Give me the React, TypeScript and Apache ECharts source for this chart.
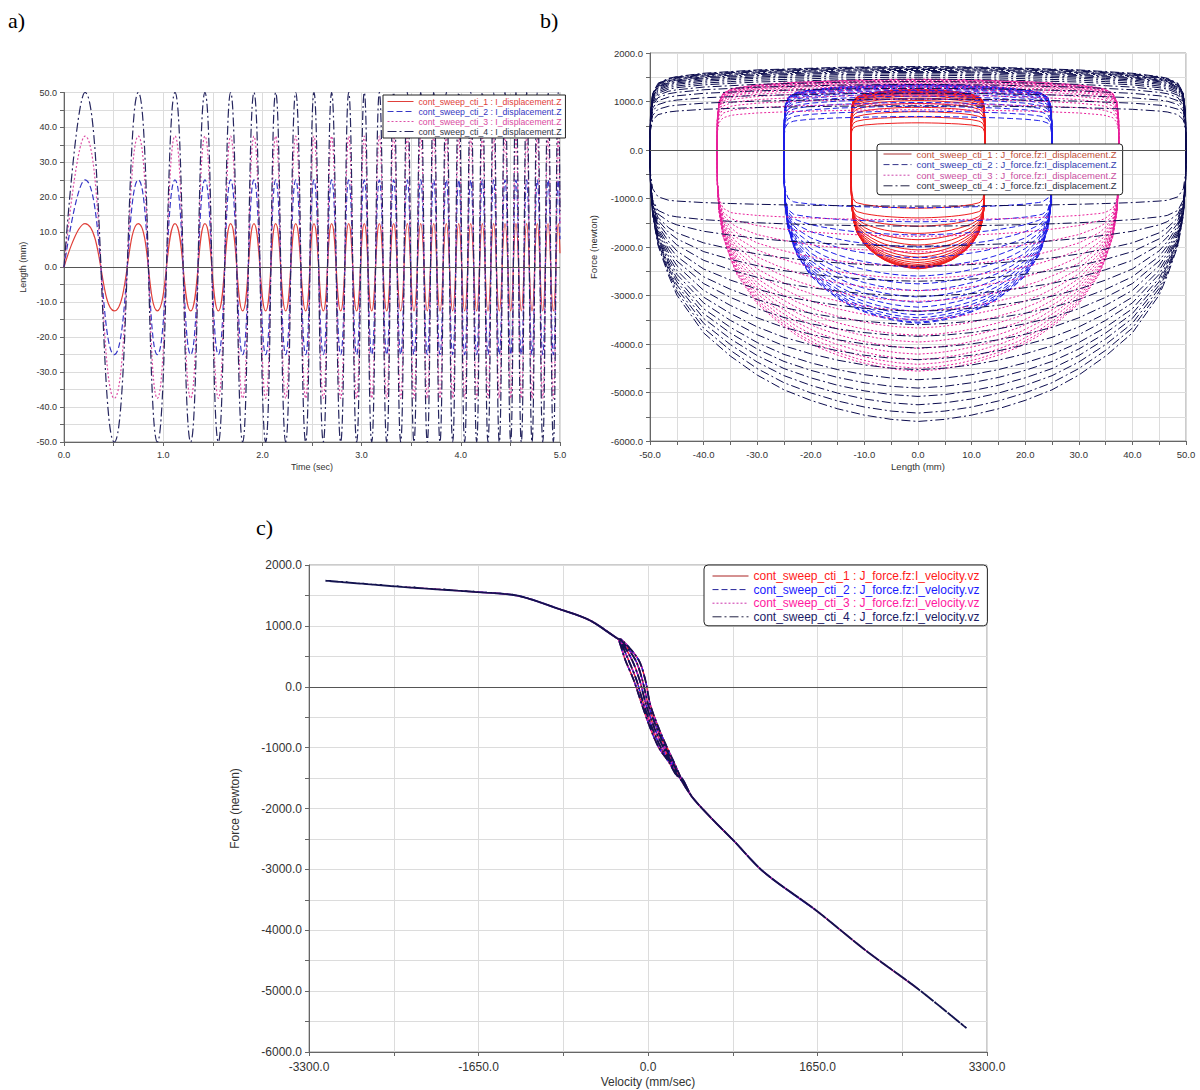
import React, { useEffect, useRef } from 'react';
import * as echarts from 'echarts';

// ---------- shared ----------
const RUNS = ['cont_sweep_cti_1', 'cont_sweep_cti_2', 'cont_sweep_cti_3', 'cont_sweep_cti_4'];
const DASHES: (string | number[])[] = ['solid', [6, 3], [2, 2], [9, 3, 2, 3]];

// ---------- panel a : displacement vs time ----------
const A_SUFFIX = ' : I_displacement.Z';
const A_AMPLITUDES = [12.5, 25, 37.5, 50];
// times of successive peaks / troughs (peak first)
const A_EXTREMA_T = [
  0.212, 0.507, 0.749, 0.941, 1.119, 1.277, 1.421, 1.556, 1.68, 1.801, 1.915, 2.033, 2.134, 2.235,
  2.336, 2.436, 2.52, 2.614, 2.698, 2.789, 2.87, 2.95, 3.027, 3.102, 3.179, 3.253, 3.323, 3.394,
  3.461, 3.528, 3.596, 3.662, 3.727, 3.79, 3.854, 3.918, 3.979, 4.039, 4.1, 4.16, 4.217, 4.274,
  4.331, 4.388, 4.446, 4.503, 4.556, 4.61, 4.664, 4.718, 4.771, 4.826, 4.879, 4.933, 4.983,
];
const A_END_T = 5.0;
const A_END_VALUES = [4, 8, 12, 16];
const A_COLORS = ['#e0403a', '#3737c6', '#dd4fa6', '#26265f'];
const A_TEXT_COLORS = ['#e0403a', '#3535c0', '#d94aa0', '#333348'];

// ---------- panel b : force vs displacement loops ----------
const B_SUFFIX = ' : J_force.fz:I_displacement.Z';
const B_AMPLITUDES = [12.5, 25, 37.5, 50];
const B_TOPS = [
  [560, 680, 790, 880, 960, 1020, 1070, 1110, 1140, 1165, 1185, 1200, 1215, 1225, 1235, 1242, 1247, 1250],
  [690, 800, 900, 980, 1050, 1110, 1160, 1200, 1230, 1260, 1280, 1300, 1315, 1325, 1335, 1342, 1348, 1352],
  [830, 950, 1050, 1130, 1200, 1250, 1290, 1320, 1350, 1370, 1390, 1405, 1420, 1430, 1440, 1450, 1455, 1460],
  [912, 1050, 1170, 1270, 1350, 1410, 1460, 1500, 1540, 1570, 1600, 1620, 1640, 1660, 1680, 1695, 1710, 1720],
];
const B_BOTTOMS = [
  [-1200, -1400, -1570, -1720, -1850, -1960, -2060, -2140, -2210, -2270, -2320, -2360, -2390, -2410, -2425, -2437, -2445, -2450],
  [-1190, -1480, -1750, -2000, -2220, -2420, -2600, -2760, -2900, -3030, -3140, -3240, -3330, -3400, -3460, -3510, -3550, -3570],
  [-1440, -1780, -2100, -2400, -2650, -2900, -3120, -3320, -3500, -3670, -3820, -3960, -4090, -4210, -4320, -4420, -4500, -4560],
  [-1157, -1570, -1983, -2396, -2706, -3015, -3325, -3601, -3842, -4083, -4324, -4530, -4737, -4909, -5081, -5253, -5425, -5597],
];
// half loop outline (from the end x=-A to the centre), read from the outer loop
const LOOP_U_HALF = [-1, -0.998, -0.99, -0.97, -0.93, -0.9, -0.8, -0.7, -0.6, -0.5, -0.4, -0.3, -0.2, -0.1, 0];
const LOOP_EDGE_HALF = [0, 0.5, 0.8, 0.95, 1, 1, 1, 1, 1, 1, 1, 1, 1, 1, 1];
const LOOP_BODY_HALF = [0, 0.03, 0.08, 0.18, 0.31, 0.4, 0.58, 0.69, 0.78, 0.85, 0.9, 0.94, 0.97, 0.99, 1];
const LOOP_TOP_HALF = [0, 0.45, 0.68, 0.8, 0.86, 0.88, 0.92, 0.94, 0.96, 0.97, 0.98, 0.99, 0.995, 0.999, 1];
const EDGE_DROP = -1250;
const B_COLORS = ['#ee1c1c', '#1e1ee6', '#e8209a', '#0c0c4e'];
const B_TEXT_COLORS = ['#c0503a', '#3540b0', '#c84fa0', '#303048'];

// ---------- panel c : force vs velocity ----------
const C_SUFFIX = ' : J_force.fz:I_velocity.vz';
const C_NEG_V = [-3140, -2366, -1667, -1268, -869, -569, -300];
const C_NEG_F = [1742, 1637, 1556, 1495, 1279, 1093, 795];
const C_POS_V = [307, 429, 629, 829, 1128, 1628, 2127, 2626, 3100];
const C_POS_F = [-1477, -1810, -2180, -2520, -3045, -3663, -4342, -4960, -5608];
// hysteresis band near zero velocity: force levels and the velocity of each traced curve
const C_BAND_F = [768, 440, 110, -300, -683, -1000, -1230, -1477];
const C_BAND_V = [
  [-285, -221, -139, -58, 23, 105, 201, 299],
  [-278, -190, -112, -40, 42, 126, 212, 300],
  [-270, -156, -82, -18, 64, 150, 225, 302],
  [-262, -122, -55, 3, 86, 170, 238, 308],
  [-253, -91, -26, 23, 105, 186, 250, 315],
];
const C_NEG_START = [4, 2, 1, 0];
const C_POS_END = [4, 6, 8, 9];
const C_COLORS = ['#ff1a1a', '#1a1aff', '#e020a0', '#13134f'];
const C_TEXT_COLORS = ['#ff1a1a', '#1a1aff', '#ff1aa0', '#1a1a66'];

const FONT = 'Liberation Sans, Arial, sans-serif';

const zip = (xs: number[], ys: number[]) => xs.map((x, i) => [x, ys[i]]);
const mirror = (half: number[], neg: boolean) =>
  half.concat(half.slice(0, -1).reverse().map((v) => (neg ? -v : v)));

const LOOP_U = mirror(LOOP_U_HALF, true);
const LOOP_EDGE = mirror(LOOP_EDGE_HALF, false);
const LOOP_BODY = mirror(LOOP_BODY_HALF, false);
const LOOP_TOP = mirror(LOOP_TOP_HALF, false);

function buildA(k: number) {
  const amp = A_AMPLITUDES[k];
  const pts: number[][] = [[0, 0]];
  A_EXTREMA_T.forEach((t, i) => pts.push([t, i % 2 === 0 ? amp : -amp]));
  pts.push([A_END_T, A_END_VALUES[k]]);
  return pts;
}

function buildB(k: number) {
  const amp = B_AMPLITUDES[k];
  const pts: number[][] = [];
  B_TOPS[k].forEach((top, j) => {
    const bottom = B_BOTTOMS[k][j];
    const edge = Math.max(EDGE_DROP, bottom * 0.85);
    LOOP_U.forEach((u, i) => {
      pts.push([amp * u, edge * LOOP_EDGE[i] + (bottom - edge) * LOOP_BODY[i]]);
    });
    for (let i = LOOP_U.length - 2; i >= 1; i--) {
      pts.push([amp * LOOP_U[i], top * LOOP_TOP[i]]);
    }
  });
  pts.push([-amp, 0]);
  return pts;
}

function buildC(k: number) {
  const neg = zip(C_NEG_V, C_NEG_F).slice(C_NEG_START[k]);
  const pos = zip(C_POS_V, C_POS_F).slice(0, C_POS_END[k]);
  const rev = (a: number[][]) => a.slice().reverse();
  const out: number[][] = [];
  C_BAND_V.forEach((vs, j) => {
    const band = zip(vs, C_BAND_F);
    if (j % 2 === 0) out.push(...neg, ...band, ...pos);
    else out.push(...rev(pos), ...rev(band), ...rev(neg));
  });
  return out;
}

const labelEvery = (every: number) => (v: number) => {
  const q = v / every;
  return Math.abs(q - Math.round(q)) < 1e-6 ? v.toFixed(1) : '';
};

function makeAxis(
  gridIndex: number, min: number, max: number, interval: number, every: number,
  fontSize: number, name: string, nameGap: number, margin: number,
) {
  return {
    type: 'value', gridIndex, min, max, interval,
    name, nameLocation: 'middle', nameGap,
    nameTextStyle: { fontSize, color: '#333', fontFamily: FONT },
    axisLine: { show: true, onZero: false, lineStyle: { color: '#666', width: 1 } },
    axisTick: { show: true, length: 4, lineStyle: { color: '#666' } },
    splitLine: { show: true, lineStyle: { color: '#dcdcdc', width: 1 } },
    axisLabel: { formatter: labelEvery(every), fontSize, color: '#333', fontFamily: FONT, margin, showMinLabel: true, showMaxLabel: true },
  };
}

const zeroLine = {
  silent: true, symbol: 'none', animation: false,
  label: { show: false },
  lineStyle: { color: '#555', width: 1, type: 'solid' },
  data: [{ yAxis: 0 }],
};

function legendFor(names: string[], colors: string[], lineColors: string[], left: number, top: number,
  itemWidth: number, fontSize: number, itemGap: number, padding: number[], radius: number) {
  return {
    show: true, orient: 'vertical', left, top, itemWidth, itemHeight: 8, itemGap, padding,
    borderColor: '#222', borderWidth: 1, borderRadius: radius, backgroundColor: '#fff',
    selectedMode: false,
    itemStyle: { opacity: 0 },
    textStyle: { fontSize, fontFamily: FONT },
    data: names.map((n, i) => ({
      name: n,
      textStyle: { color: colors[i] },
      lineStyle: { color: lineColors[i], width: 1, type: DASHES[i] },
    })),
  };
}

export default function App() {
  const ref = useRef<HTMLDivElement>(null);
  useEffect(() => {
    if (!ref.current) return;
    const chart = echarts.init(ref.current, undefined, { renderer: 'svg' });

    const namesA = RUNS.map((r) => r + A_SUFFIX);
    const namesB = RUNS.map((r) => r + B_SUFFIX);
    const namesC = RUNS.map((r) => r + C_SUFFIX);

    const series: any[] = [];
    RUNS.forEach((_, k) => {
      series.push({
        name: namesA[k], type: 'line', xAxisIndex: 0, yAxisIndex: 0,
        data: buildA(k), symbol: 'none', showSymbol: false, smooth: 0.5,
        lineStyle: { color: A_COLORS[k], width: 1.2, type: DASHES[k] },
        itemStyle: { color: A_COLORS[k] },
        markLine: k === 0 ? zeroLine : undefined,
      });
    });
    RUNS.forEach((_, k) => {
      series.push({
        name: namesB[k], type: 'line', xAxisIndex: 1, yAxisIndex: 1,
        data: buildB(k), symbol: 'none', showSymbol: false,
        lineStyle: { color: B_COLORS[k], width: 1, type: DASHES[k] },
        itemStyle: { color: B_COLORS[k] },
        markLine: k === 0 ? zeroLine : undefined,
      });
    });
    RUNS.forEach((_, k) => {
      series.push({
        name: namesC[k], type: 'line', xAxisIndex: 2, yAxisIndex: 2,
        data: buildC(k), symbol: 'none', showSymbol: false, smooth: 0.3,
        lineStyle: { color: C_COLORS[k], width: k === 3 ? 1.8 : 1.4, type: DASHES[k] },
        itemStyle: { color: C_COLORS[k] },
        markLine: k === 0 ? zeroLine : undefined,
      });
    });

    chart.setOption({
      animation: false,
      backgroundColor: '#fff',
      grid: [
        { left: 64, top: 92.5, width: 496, height: 349.5, show: true, borderColor: '#999', borderWidth: 1 },
        { left: 650, top: 53, width: 536, height: 388, show: true, borderColor: '#999', borderWidth: 1 },
        { left: 309, top: 565, width: 678, height: 487, show: true, borderColor: '#999', borderWidth: 1 },
      ],
      xAxis: [
        makeAxis(0, 0, 5, 0.5, 1, 9, 'Time (sec)', 20, 8),
        makeAxis(1, -50, 50, 5, 10, 9.5, 'Length (mm)', 20, 8),
        makeAxis(2, -3300, 3300, 825, 1650, 12, 'Velocity (mm/sec)', 24, 9),
      ],
      yAxis: [
        makeAxis(0, -50, 50, 5, 10, 9, 'Length (mm)', 37, 7),
        makeAxis(1, -6000, 2000, 500, 1000, 9.5, 'Force (newton)', 52, 7),
        makeAxis(2, -6000, 2000, 500, 1000, 12, 'Force (newton)', 68, 7),
      ],
      legend: [
        legendFor(namesA, A_TEXT_COLORS, A_COLORS, 383, 95, 26, 8.7, 1, [2, 4, 2, 4], 0),
        legendFor(namesB, B_TEXT_COLORS, ['#a33', '#338', '#c4a', '#224'], 877, 144, 28, 9.5, 0.6, [5, 6, 4, 6], 3),
        legendFor(namesC, C_TEXT_COLORS, ['#a22', '#229', '#c3a', '#224'], 704, 565, 36, 12, 1.6, [5, 8, 3, 8], 4),
      ],
      graphic: [
        { type: 'text', left: 8, top: 9, style: { text: 'a)', fontSize: 22, fontFamily: 'Liberation Serif, serif', fill: '#000' } },
        { type: 'text', left: 540, top: 9, style: { text: 'b)', fontSize: 22, fontFamily: 'Liberation Serif, serif', fill: '#000' } },
        { type: 'text', left: 256, top: 516, style: { text: 'c)', fontSize: 22, fontFamily: 'Liberation Serif, serif', fill: '#000' } },
      ],
      series,
    });
    return () => chart.dispose();
  }, []);

  return (
    <div
      ref={ref}
      style={{ position: 'absolute', left: 0, top: 0, width: 1200, height: 1090, background: '#fff' }}
    />
  );
}
